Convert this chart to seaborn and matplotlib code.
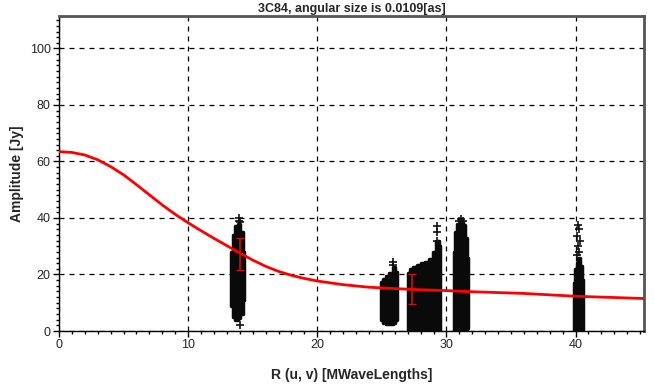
import seaborn as sns
import matplotlib.pyplot as plt
from matplotlib.ticker import MultipleLocator
import pandas as pd

# model curve
curve_x = [0, 1, 2, 3, 4, 5, 6, 7, 8, 9, 10, 11, 12, 13, 14, 15, 16, 17, 18, 19, 20,
           22, 24, 26, 28, 30, 32, 34, 36, 38, 40, 42, 45.3]
curve_y = [63.5, 63.2, 62.3, 60.6, 58.2, 55.3, 51.8, 48.2, 44.6, 41.3, 38.3, 35.5, 32.8,
           30.2, 27.6, 25.1, 22.9, 21.1, 19.7, 18.6, 17.7, 16.4, 15.5, 15.0, 14.6, 14.3,
           13.9, 13.6, 13.3, 12.8, 12.3, 12.0, 11.5]

# error bars on the model
err_x = [14.0, 27.3]
err_lo = [21.6, 9.5]
err_hi = [32.9, 20.1]

# visibility clusters: column position, lower and upper amplitude
clusters = {
    "c14": ([13.35, 13.55, 13.75, 13.95, 14.15, 14.3],
            [9, 5, 4, 4.5, 6, 11],
            [28, 34, 37, 38, 35, 28]),
    "c25": ([24.95, 25.2, 25.45, 25.7, 25.95, 26.15],
            [4, 3, 2.5, 2.5, 3, 4],
            [17.5, 18.5, 19.5, 20.5, 22.5, 21]),
    "c28": ([27.05, 27.3, 27.6, 27.9, 28.2, 28.5, 28.8, 29.1, 29.35, 29.5],
            [0, 0, 0, 0, 0, 0, 0, 0, 0, 0],
            [20.5, 22, 22.5, 23.5, 24, 24.5, 25.5, 28, 32, 30]),
    "c31": ([30.55, 30.75, 30.95, 31.15, 31.35, 31.55, 31.7],
            [0, 0, 0, 0, 0, 0, 1],
            [28, 35, 38, 38.5, 37.5, 33, 26]),
    "c40": ([39.85, 40.0, 40.15, 40.3, 40.45, 40.6],
            [0, 0, 0, 0, 0, 0],
            [17, 22, 24, 26, 23, 18]),
}

# scattered outlier points above / below the blobs
pts_x = [13.95, 13.9, 14.05, 14.0, 25.9, 25.85, 29.25, 29.3, 29.3, 31.1, 30.95, 31.3,
         40.2, 40.3, 40.15, 40.35, 40.2, 40.25, 40.1]
pts_y = [40, 39, 38.5, 2.3, 24.5, 23.3, 37, 35, 32, 39.5, 39, 39,
         37.5, 36, 33.5, 32, 30, 28, 27]

sns.set_style("ticks")
plt.rcParams['font.family'] = ['Liberation Sans', 'DejaVu Sans']

fig = plt.figure(figsize=(6.54, 3.91), dpi=100)
ax = fig.add_axes([59 / 654, 1 - 331 / 391, 585 / 654, 315 / 391])

for name, (cx, lo, hi) in clusters.items():
    ax.fill_between(cx, lo, hi, step="mid", color="#0a0a0a", lw=2.5, edgecolor="#0a0a0a", zorder=3)

pts = pd.DataFrame({"x": pts_x, "y": pts_y})
sns.scatterplot(data=pts, x="x", y="y", marker="+", color="#111111", s=30, linewidth=1.2, ax=ax, zorder=4)

cdf = pd.DataFrame({"x": curve_x, "y": curve_y})
sns.lineplot(data=cdf, x="x", y="y", color="#ff0000", lw=2, ax=ax, zorder=5)

mid = [(a + b) / 2 for a, b in zip(err_lo, err_hi)]
half = [(b - a) / 2 for a, b in zip(err_lo, err_hi)]
ax.errorbar(err_x, mid, yerr=half, fmt="none", ecolor="#c81010", elinewidth=1.2, capsize=3, zorder=6)

ax.set_xlim(0, 45.3)
ax.set_ylim(0, 111.5)
ax.xaxis.set_major_locator(MultipleLocator(10))
ax.xaxis.set_minor_locator(MultipleLocator(1))
ax.yaxis.set_major_locator(MultipleLocator(20))
ax.yaxis.set_minor_locator(MultipleLocator(2))
ax.tick_params(which="major", length=4, width=1, color="black", labelsize=9, pad=2)
ax.tick_params(which="minor", length=2, width=1, color="black")
ax.grid(True, which="major", color="black", linestyle=(0, (4, 4)), linewidth=0.9)
ax.set_axisbelow(True)

for s in ["left", "bottom"]:
    ax.spines[s].set_color("black")
    ax.spines[s].set_linewidth(1)
for s in ["top", "right"]:
    ax.spines[s].set_color("#555555")
    ax.spines[s].set_linewidth(2)

ax.set_title("3C84, angular size is 0.0109[as]", fontsize=9, fontweight="bold", pad=3)
ax.set_xlabel("R (u, v) [MWaveLengths]", fontsize=10, fontweight="bold", labelpad=12)
ax.set_ylabel("Amplitude [Jy]", fontsize=10, fontweight="bold", labelpad=4)

fig.savefig("out.png", dpi=100)
